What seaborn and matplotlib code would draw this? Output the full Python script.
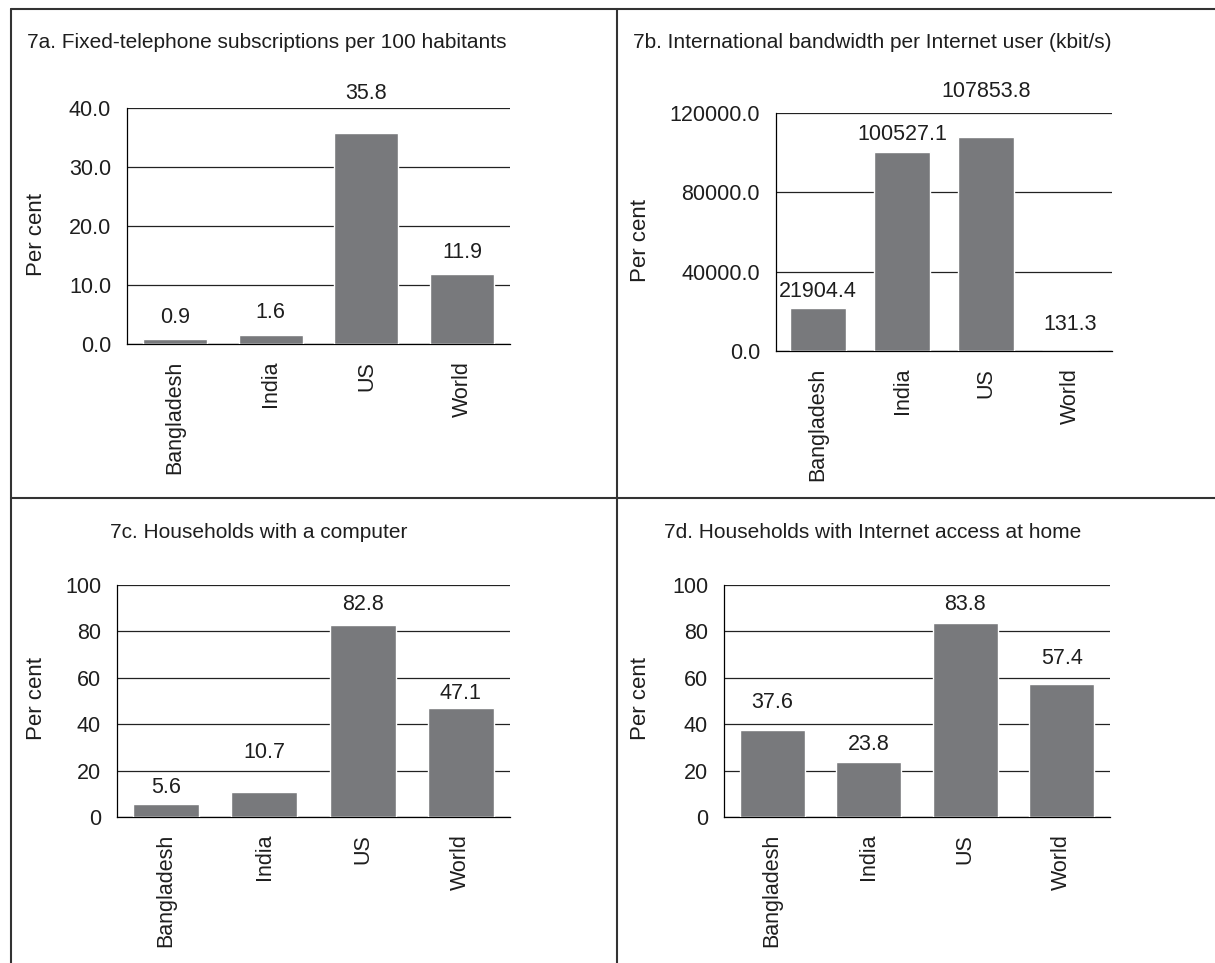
import matplotlib
matplotlib.use("Agg")
import matplotlib.pyplot as plt
from matplotlib.lines import Line2D
import seaborn as sns
import pandas as pd

# data
countries = ["Bangladesh", "India", "US", "World"]
fixed_tel = [0.9, 1.6, 35.8, 11.9]
bandwidth = [21904.4, 100527.1, 107853.8, 131.3]
hh_computer = [5.6, 10.7, 82.8, 47.1]
hh_internet = [37.6, 23.8, 83.8, 57.4]

titles = ["7a. Fixed-telephone subscriptions per 100 habitants",
          "7b. International bandwidth per Internet user (kbit/s)",
          "7c. Households with a computer",
          "7d. Households with Internet access at home"]
yticks_a = [0, 10, 20, 30, 40]
yticks_b = [0, 40000, 80000, 120000]
yticks_cd = [0, 20, 40, 60, 80, 100]

sns.set_style("white")
plt.rcParams["font.family"] = ["Liberation Sans", "DejaVu Sans"]

W, H = 1215, 963
fig = plt.figure(figsize=(W / 100, H / 100), dpi=100)
bar_color = "#78797c"
txt_color = "#1e1e1e"
fs = 15.5


def px_axes(x0, y0, x1, y1):
    return fig.add_axes([x0 / W, 1 - y1 / H, (x1 - x0) / W, (y1 - y0) / H])


# panel layouts in pixels: axes box, title centre, ylabel centre
panels = [
    dict(vals=fixed_tel, box=(127, 108, 510, 344), title=(267, 43), ylab=(36, 234),
         ticks=yticks_a, fmt="%.1f", pads=[7.5, 8, 21, 7.5]),
    dict(vals=bandwidth, box=(776, 113, 1112, 351), title=(872, 43), ylab=(640, 240),
         ticks=yticks_b, fmt="%.1f", pads=[4, 4.7, 25, 11]),
    dict(vals=hh_computer, box=(117, 585, 510, 817), title=(259, 532), ylab=(36, 698),
         ticks=yticks_cd, fmt="%d", pads=[4, 21, 7, 3]),
    dict(vals=hh_internet, box=(724, 585, 1110, 817), title=(873, 532), ylab=(640, 698),
         ticks=yticks_cd, fmt="%d", pads=[12, 4.7, 5.4, 11]),
]

for p, title in zip(panels, titles):
    ax = px_axes(*p["box"])
    df = pd.DataFrame({"country": countries, "value": p["vals"]})
    sns.barplot(data=df, x="country", y="value", color=bar_color, saturation=1,
                width=0.67, ax=ax, zorder=3)
    ax.set_xlim(-0.5, len(countries) - 0.5)
    ax.set_ylim(p["ticks"][0], p["ticks"][-1])
    ax.set_yticks(p["ticks"])
    ax.set_yticklabels([p["fmt"] % t for t in p["ticks"]], fontsize=fs, color=txt_color)
    ax.yaxis.grid(True, color="#222222", lw=0.9, zorder=0)
    ax.set_axisbelow(True)
    # tick marks between categories, labels centred under bars
    ax.set_xticks([i - 0.5 for i in range(len(countries) + 1)])
    ax.set_xticklabels([])
    ax.set_xticks(range(len(countries)), minor=True)
    ax.set_xticklabels(countries, minor=True, rotation=90, fontsize=fs, va="top",
                       color=txt_color)
    ax.tick_params(axis="x", which="major", length=6, width=0.9, color="black", direction="out")
    ax.tick_params(axis="x", which="minor", length=0, pad=12)
    ax.tick_params(axis="y", length=6.5, width=0.9, color="black", direction="out", pad=5)
    for s in ["top", "right"]:
        ax.spines[s].set_visible(False)
    for s in ["left", "bottom"]:
        ax.spines[s].set_color("black")
        ax.spines[s].set_linewidth(0.9)
    ax.set_xlabel("")
    ax.set_ylabel("")
    for bar, v, pad in zip(ax.patches, p["vals"], p["pads"]):
        ax.annotate("%.1f" % v, (bar.get_x() + bar.get_width() / 2, bar.get_height()),
                    xytext=(0, pad), textcoords="offset points", ha="center", va="bottom",
                    fontsize=fs, color=txt_color, annotation_clip=False)
    fig.text(p["title"][0] / W, 1 - p["title"][1] / H, title, ha="center", va="center",
             fontsize=15, color=txt_color)
    fig.text(p["ylab"][0] / W, 1 - p["ylab"][1] / H, "Per cent", rotation=90,
             ha="center", va="center", fontsize=16, color=txt_color)

# panel frame lines
frame = dict(color="#333333", lw=1.5, transform=fig.transFigure)
fig.add_artist(Line2D([11 / W, 1], [1 - 9 / H, 1 - 9 / H], **frame))
fig.add_artist(Line2D([11 / W, 11 / W], [0, 1 - 9 / H], **frame))
fig.add_artist(Line2D([617 / W, 617 / W], [0, 1 - 9 / H], **frame))
fig.add_artist(Line2D([11 / W, 1], [1 - 498 / H, 1 - 498 / H], **frame))

fig.savefig("out.png", dpi=100)
